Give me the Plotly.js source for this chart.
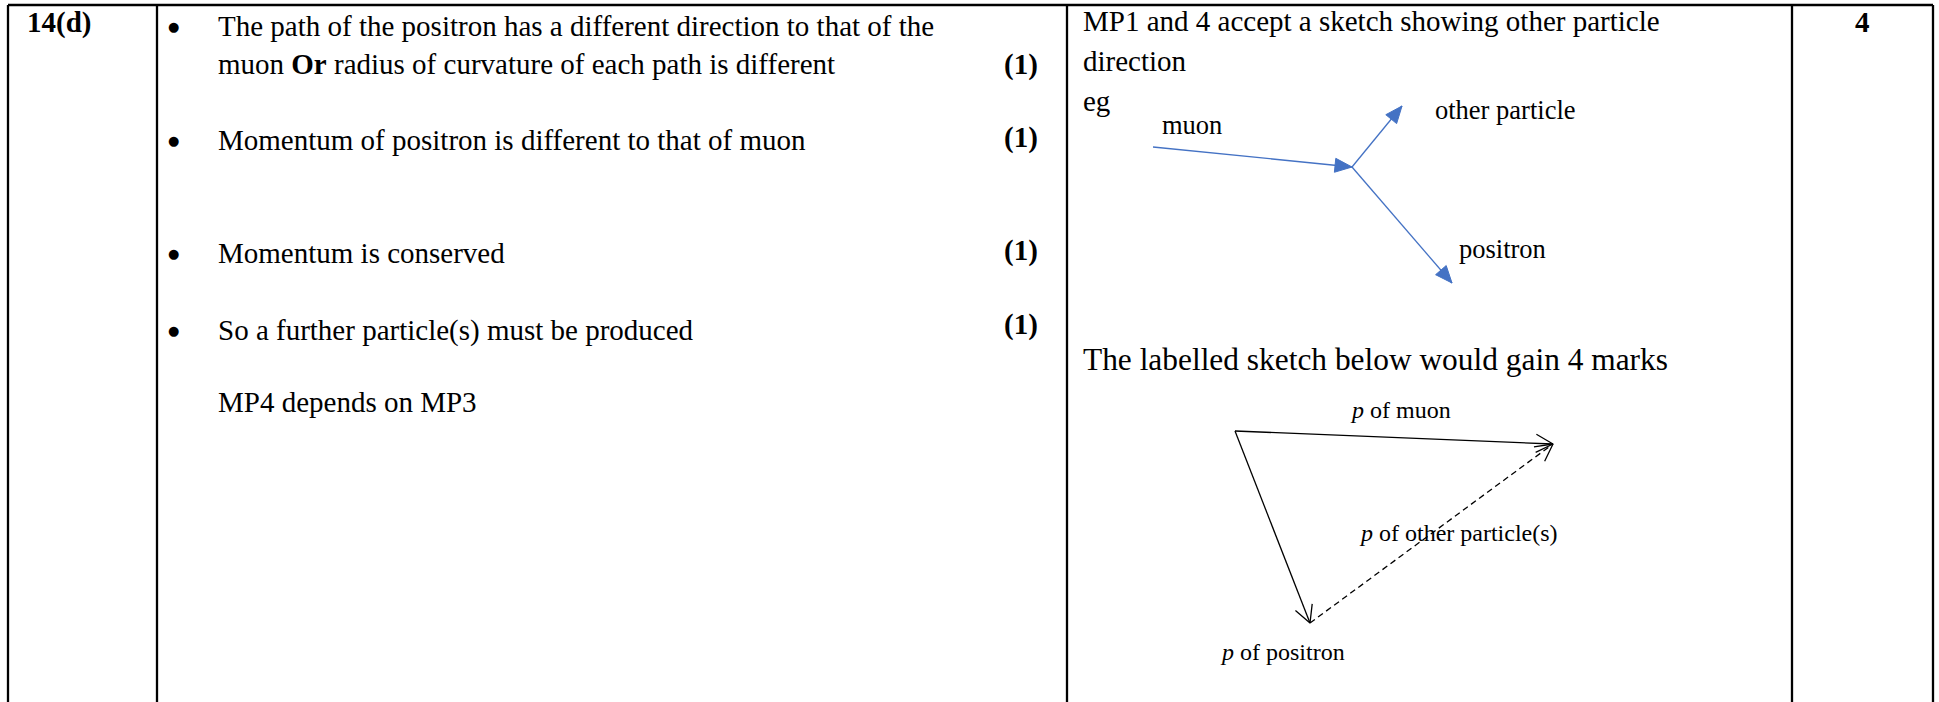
<!DOCTYPE html>
<html>
<head>
<meta charset="utf-8">
<script src="https://cdn.plot.ly/plotly-3.0.1.min.js"></script>
<style>
  html, body { margin: 0; padding: 0; background: #fff; }
  #sheet { width: 1939px; height: 702px; }
</style>
</head>
<body>
<div id="sheet"></div>
<script>
// ---- table content ----
const questionLabel = '14(d)';
const markPoints = [
  ['The path of the positron has a different direction to that of the',
   'muon <b>Or</b> radius of curvature of each path is different'],
  ['Momentum of positron is different to that of muon'],
  ['Momentum is conserved'],
  ['So a further particle(s) must be produced']
];
const markValues = ['(1)', '(1)', '(1)', '(1)'];
const markNote = 'MP4 depends on MP3';
const guidanceLines = ['MP1 and 4 accept a sketch showing other particle', 'direction', 'eg'];
const sketchCaption = 'The labelled sketch below would gain 4 marks';
const totalMarks = '4';

// ---- eg sketch: tracks meeting at the decay point ----
const egNames = ['muon', 'other particle', 'positron'];
const egTrackX = [[1153, 1352], [1352, 1402], [1352, 1452]];
const egTrackY = [[147, 167], [167, 106], [167, 283]];

// ---- momentum triangle: A -> B (muon), A -> C (positron), C -> B (other) ----
const triNames = ['<i>p</i> of muon', '<i>p</i> of other particle(s)', '<i>p</i> of positron'];
const triX = [1235, 1553, 1310];
const triY = [431, 444, 623];

// ---- layout positions ----
const W = 1939, H = 702;
const cols = [8, 157, 1067, 1792, 1933];
const topY = 5;
const leftTextX = 216, bulletX = 173, markX = 1021, rightTextX = 1081;
const pointRows = [[26, 64], [140], [253], [330]];
const markRows = [64, 137, 250, 324];
const noteRow = 402;
const guideRows = [21, 61, 101];
const captionRow = 359;
const egLabelPos = [[1160, 125], [1433, 110], [1457, 249]];
const triLabelPos = [[1348, 410], [1357, 533], [1218, 652]];

const serif = '"Liberation Serif", "Times New Roman", Times, serif';
const blue = '#4472C4';

function txt(x, y, text, size, opts) {
  return Object.assign({
    x: x, y: y, xref: 'x', yref: 'y', text: text, showarrow: false,
    xanchor: 'left', yanchor: 'middle',
    font: { family: serif, size: size, color: '#000' }
  }, opts || {});
}

// arrow head wings computed from a track's last segment
function head(xs, ys, len, half) {
  const x1 = xs[xs.length - 1], y1 = ys[ys.length - 1];
  const x0 = xs[xs.length - 2], y0 = ys[ys.length - 2];
  const d = Math.hypot(x1 - x0, y1 - y0);
  const ux = (x1 - x0) / d, uy = (y1 - y0) / d;
  const bx = x1 - ux * len, by = y1 - uy * len;
  return {
    tip: [x1, y1],
    l: [bx - uy * half, by + ux * half],
    r: [bx + uy * half, by - ux * half]
  };
}

const traces = [];

// eg tracks with filled heads
egTrackX.forEach((xs, i) => {
  const ys = egTrackY[i];
  traces.push({ x: xs, y: ys, mode: 'lines', line: { color: blue, width: 1.3 }, hoverinfo: 'skip' });
  const h = head(xs, ys, 17, 7);
  traces.push({
    x: [h.tip[0], h.l[0], h.r[0], h.tip[0]], y: [h.tip[1], h.l[1], h.r[1], h.tip[1]],
    mode: 'lines', fill: 'toself', fillcolor: blue, line: { color: blue, width: 1 }, hoverinfo: 'skip'
  });
});

// momentum triangle with open heads
const triSides = [
  { from: 0, to: 1, dash: 'solid' },
  { from: 0, to: 2, dash: 'solid' },
  { from: 2, to: 1, dash: '6px,4px' }
];
triSides.forEach(s => {
  const xs = [triX[s.from], triX[s.to]], ys = [triY[s.from], triY[s.to]];
  traces.push({ x: xs, y: ys, mode: 'lines', line: { color: '#000', width: 1.3, dash: s.dash }, hoverinfo: 'skip' });
  const h = head(xs, ys, 17, 9);
  traces.push({
    x: [h.l[0], h.tip[0], h.r[0]], y: [h.l[1], h.tip[1], h.r[1]],
    mode: 'lines', line: { color: '#000', width: 1.3 }, hoverinfo: 'skip'
  });
});

const annotations = [];
annotations.push(txt(25, 22, '<b>' + questionLabel + '</b>', 29));
markPoints.forEach((lines, i) => {
  annotations.push(txt(bulletX, pointRows[i][0], '●', 13, { xanchor: 'center', font: { family: 'DejaVu Sans', size: 13, color: '#000' } }));
  lines.forEach((line, j) => annotations.push(txt(leftTextX, pointRows[i][j], line, 29)));
  annotations.push(txt(markX, markRows[i], '<b>' + markValues[i] + '</b>', 29, { xanchor: 'center' }));
});
annotations.push(txt(leftTextX, noteRow, markNote, 29));
guidanceLines.forEach((line, i) => annotations.push(txt(rightTextX, guideRows[i], line, 29)));
annotations.push(txt(rightTextX, captionRow, sketchCaption, 31.4));
annotations.push(txt((cols[3] + cols[4]) / 2, 22, '<b>' + totalMarks + '</b>', 29, { xanchor: 'center' }));
egNames.forEach((n, i) => annotations.push(txt(egLabelPos[i][0], egLabelPos[i][1], n, 26.5)));
triNames.forEach((n, i) => annotations.push(txt(triLabelPos[i][0], triLabelPos[i][1], n, 24)));

const shapes = [];
const border = { color: '#000', width: 2.3 };
shapes.push({ type: 'line', xref: 'x', yref: 'y', x0: cols[0], x1: cols[4], y0: topY, y1: topY, line: border });
cols.forEach(c => shapes.push({ type: 'line', xref: 'x', yref: 'y', x0: c, x1: c, y0: topY, y1: H, line: border }));

const layout = {
  width: W, height: H,
  margin: { l: 0, r: 0, t: 0, b: 0 },
  paper_bgcolor: '#fff', plot_bgcolor: '#fff',
  showlegend: false,
  xaxis: { range: [0, W], visible: false, fixedrange: true },
  yaxis: { range: [H, 0], visible: false, fixedrange: true },
  annotations: annotations,
  shapes: shapes
};

Plotly.newPlot('sheet', traces, layout, { staticPlot: true });
</script>
</body>
</html>
